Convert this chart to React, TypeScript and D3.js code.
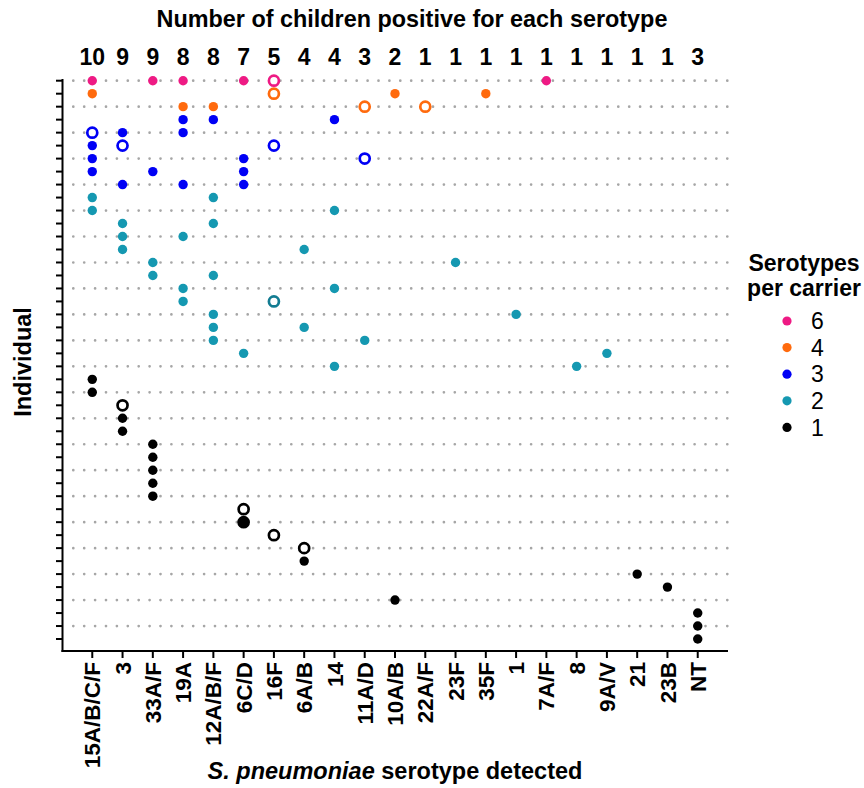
import React from "react";
import * as d3 from "d3";

// Serotypes in column order
const serotypes = [
  "15A/B/C/F", "3", "33A/F", "19A", "12A/B/F", "6C/D", "16F", "6A/B", "14",
  "11A/D", "10A/B", "22A/F", "23F", "35F", "1", "7A/F", "8", "9A/V", "21", "23B", "NT",
];

// Serotypes detected in each individual (individual 1 at the top)
const carriage: string[][] = [
  ["15A/B/C/F", "33A/F", "19A", "6C/D", "16F", "7A/F"],
  ["15A/B/C/F", "16F", "10A/B", "35F"],
  ["19A", "12A/B/F", "11A/D", "22A/F"],
  ["19A", "12A/B/F", "14"],
  ["15A/B/C/F", "3", "19A"],
  ["15A/B/C/F", "3", "16F"],
  ["15A/B/C/F", "6C/D", "11A/D"],
  ["15A/B/C/F", "33A/F", "6C/D"],
  ["3", "19A", "6C/D"],
  ["15A/B/C/F", "12A/B/F"],
  ["15A/B/C/F", "14"],
  ["3", "12A/B/F"],
  ["3", "19A"],
  ["3", "6A/B"],
  ["33A/F", "23F"],
  ["33A/F", "12A/B/F"],
  ["19A", "14"],
  ["19A", "16F"],
  ["12A/B/F", "1"],
  ["12A/B/F", "6A/B"],
  ["12A/B/F", "11A/D"],
  ["6C/D", "9A/V"],
  ["14", "8"],
  ["15A/B/C/F"],
  ["15A/B/C/F"],
  ["3"],
  ["3"],
  ["3"],
  ["33A/F"],
  ["33A/F"],
  ["33A/F"],
  ["33A/F"],
  ["33A/F"],
  ["6C/D"],
  ["6C/D"],
  ["16F"],
  ["6A/B"],
  ["6A/B"],
  ["21"],
  ["23B"],
  ["10A/B"],
  ["NT"],
  ["NT"],
  ["NT"],
];

// Detections drawn as open rings: [individual, serotype]
const ringed: [number, string][] = [
  [1, "16F"], [2, "16F"], [3, "11A/D"], [3, "22A/F"], [5, "15A/B/C/F"],
  [6, "3"], [6, "16F"], [7, "11A/D"], [18, "16F"], [26, "3"],
  [34, "6C/D"], [36, "16F"], [37, "6A/B"],
];

// Detections drawn as a ring laid over a filled dot
const stacked: [number, string][] = [[35, "6C/D"]];

// Legend: serotypes per carrier
const perCarrier = [6, 4, 3, 2, 1];
const carrierColors = ["#EE1A84", "#FF6A0D", "#0000F5", "#1598B1", "#000000"];
const ringColors = ["#EE1A84", "#FF6A0D", "#0000F5", "#137C92", "#000000"];

const W = 864;
const H = 788;
const FONT = "'Liberation Sans', Arial, Helvetica, sans-serif";

export default function App() {
  const individuals = carriage.map((_, i) => i + 1);

  const x = d3.scalePoint<string>().domain(serotypes).range([62, 728]).padding(1);
  const y = d3.scaleLinear().domain([1, 45]).range([80.7, 652]);
  const color = d3.scaleOrdinal<number, string>().domain(perCarrier).range(carrierColors);
  const ringColor = d3.scaleOrdinal<number, string>().domain(perCarrier).range(ringColors);

  const key = (i: number, s: string) => `${i}|${s}`;
  const ringSet = new Set(ringed.map(([i, s]) => key(i, s)));
  const stackSet = new Set(stacked.map(([i, s]) => key(i, s)));

  const marks = carriage.flatMap((list, idx) =>
    list.map((s) => ({ ind: idx + 1, s, n: list.length }))
  );

  const counts = serotypes.map(
    (s) => new Set(marks.filter((m) => m.s === s).map((m) => m.ind)).size
  );

  const gridRows = individuals.filter((i) => i % 2 === 1);
  const axisLeft = 62.5;
  const axisBottom = 651;
  const yTop = y(1) - 1.7;

  const legendY = d3.scaleLinear().domain([0, 4]).range([321, 427.4]);
  const dotR = 4.7;
  const ringR = 5;
  const ringW = 2.7;

  return (
    <svg width={W} height={H} style={{ display: "block", position: "absolute", left: 0, top: 0 }} fontFamily={FONT}>
      <rect width={W} height={H} fill="#fff" />

      {/* Title and per-serotype counts */}
      <text x={412} y={27} textAnchor="middle" fontSize={23.4} fontWeight="bold">
        Number of children positive for each serotype
      </text>
      {serotypes.map((s, i) => (
        <text key={s} x={x(s)} y={65} textAnchor="middle" fontSize={23} fontWeight="bold">
          {counts[i]}
        </text>
      ))}

      {/* Dotted guide lines on alternate rows */}
      {gridRows.map((i) => (
        <line
          key={i}
          x1={73.3}
          x2={729}
          y1={y(i)}
          y2={y(i)}
          stroke="#a6a6a6"
          strokeWidth={2.7}
          strokeLinecap="round"
          strokeDasharray="0 10.9"
        />
      ))}

      {/* Detections */}
      {marks.map((m) => {
        const k = key(m.ind, m.s);
        const cx = x(m.s)!;
        const cy = y(m.ind);
        if (stackSet.has(k)) {
          return (
            <g key={k}>
              <circle cx={cx} cy={cy} r={dotR} fill={color(m.n)} />
              <circle cx={cx} cy={cy} r={ringR} fill="none" stroke={ringColor(m.n)} strokeWidth={ringW} />
            </g>
          );
        }
        if (ringSet.has(k)) {
          return (
            <circle key={k} cx={cx} cy={cy} r={ringR} fill="#fff" stroke={ringColor(m.n)} strokeWidth={ringW} />
          );
        }
        return <circle key={k} cx={cx} cy={cy} r={dotR} fill={color(m.n)} />;
      })}

      {/* Y axis */}
      <line x1={axisLeft} x2={axisLeft} y1={yTop} y2={axisBottom + 1} stroke="#000" strokeWidth={2} />
      {individuals.map((i) => (
        <line key={i} x1={56} x2={axisLeft} y1={y(i)} y2={y(i)} stroke="#000" strokeWidth={2} />
      ))}

      {/* X axis */}
      <line x1={axisLeft - 1} x2={728} y1={axisBottom} y2={axisBottom} stroke="#000" strokeWidth={2} />
      {serotypes.map((s) => (
        <g key={s} transform={`translate(${x(s)},${axisBottom})`}>
          <line y1={0} y2={7} stroke="#000" strokeWidth={2} />
          <text
            transform="translate(0,11) rotate(-90)"
            textAnchor="end"
            dy="0.36em"
            fontSize={22.5}
            fontWeight="bold"
          >
            {s}
          </text>
        </g>
      ))}

      {/* Axis titles */}
      <text transform={`translate(31,${362}) rotate(-90)`} textAnchor="middle" fontSize={23.5} fontWeight="bold">
        Individual
      </text>
      <text x={395} y={779} textAnchor="middle" fontSize={23.5} fontWeight="bold">
        <tspan fontStyle="italic">S. pneumoniae</tspan> serotype detected
      </text>

      {/* Legend */}
      <text x={804} y={271} textAnchor="middle" fontSize={23} fontWeight="bold">Serotypes</text>
      <text x={804} y={296} textAnchor="middle" fontSize={23} fontWeight="bold">per carrier</text>
      {perCarrier.map((n, i) => (
        <g key={n} transform={`translate(0,${legendY(i)})`}>
          <circle cx={787} cy={0} r={4.6} fill={color(n)} />
          <text x={811} y={0} dy="0.36em" fontSize={23}>{n}</text>
        </g>
      ))}
    </svg>
  );
}
